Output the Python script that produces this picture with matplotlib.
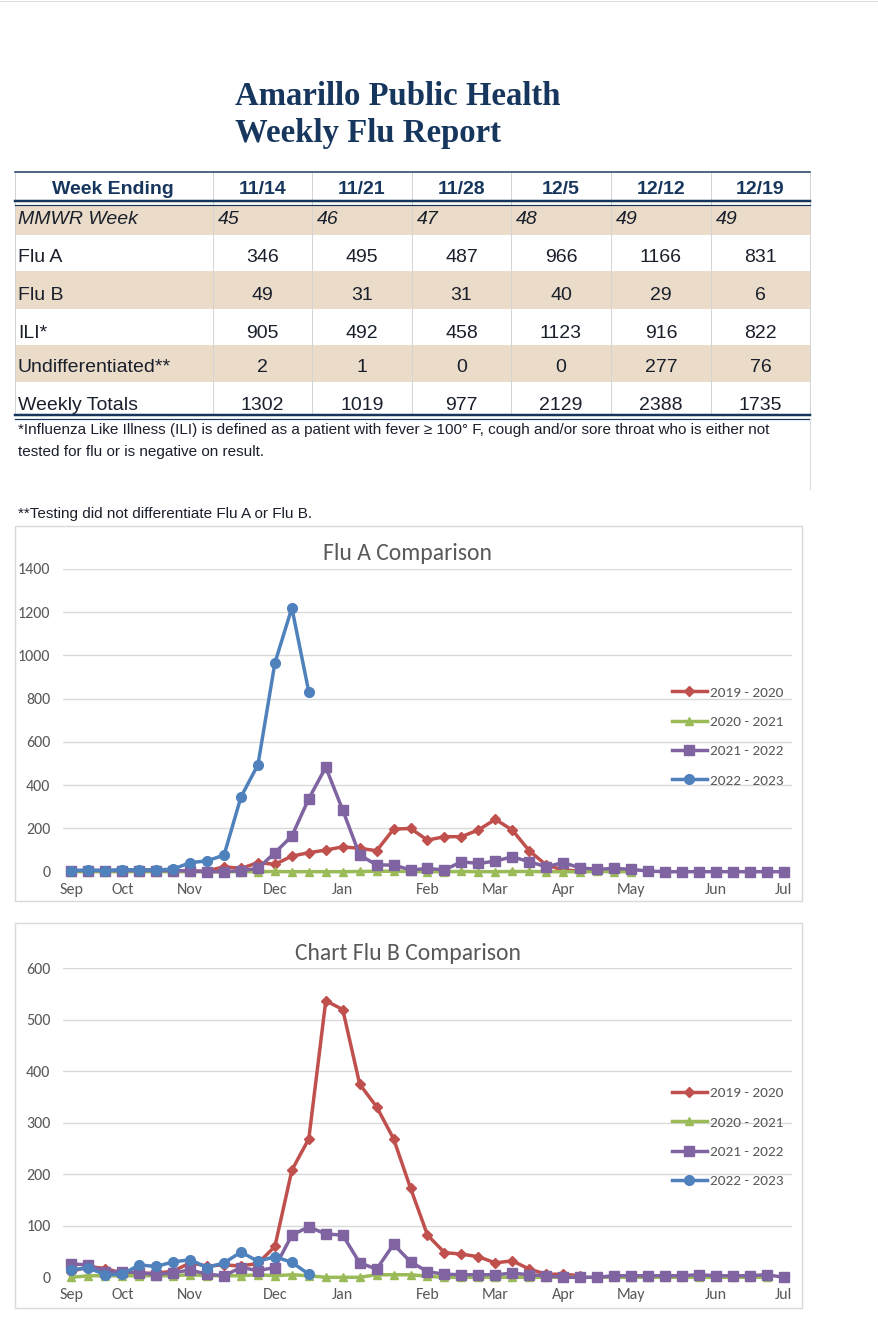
import numpy as np
import matplotlib
matplotlib.use("Agg")
import matplotlib.pyplot as plt
from matplotlib import font_manager
from matplotlib.patches import Rectangle
from matplotlib.lines import Line2D

W, H = 879, 1335

# ---- weekly report table ----
week_ending = ["11/14", "11/21", "11/28", "12/5", "12/12", "12/19"]
mmwr_week = ["45", "46", "47", "48", "49", "49"]
flu_a = [346, 495, 487, 966, 1166, 831]
flu_b = [49, 31, 31, 40, 29, 6]
ili = [905, 492, 458, 1123, 916, 822]
undiff = [2, 1, 0, 0, 277, 76]
weekly_totals = [1302, 1019, 977, 2129, 2388, 1735]

note_ili = ("*Influenza Like Illness (ILI) is defined as a patient with fever \u2265 100\u00b0 F, "
            "cough and/or sore throat who is either not\ntested for flu or is negative on result.")
note_undiff = "**Testing did not differentiate Flu A or Flu B."

# ---- season comparison charts (one value per week, first week of Sep = 0) ----
seasons = ["2019 - 2020", "2020 - 2021", "2021 - 2022", "2022 - 2023"]
month_labels = ["Sep", "Oct", "Nov", "Dec", "Jan", "Feb", "Mar", "Apr", "May", "Jun", "Jul"]
month_weeks = [0, 3, 7, 12, 16, 21, 25, 29, 33, 38, 42]

fluA_2019 = [3, 5, 5, 5, 8, 8, 5, 3, 3, 23, 15, 42, 34, 72, 88, 100, 115, 108, 97, 197,
             200, 146, 162, 162, 193, 242, 193, 97, 31, 8, 3]
fluA_2020 = [0, 0, 0, 0, 0, 0, 0, 0, 0, 0, 0, 0, 1, 0, 0, 0, 0, 1, 2, 2, 1, 0, 0, 1, 0,
             0, 1, 1, 0, 0, 0, 1, 0, 0]
fluA_2021 = [5, 5, 5, 5, 5, 5, 5, 3, 0, 0, 5, 15, 88, 165, 338, 483, 285, 77, 31, 31, 8,
             15, 8, 46, 38, 49, 69, 46, 23, 42, 18, 11, 15, 11, 3, 0, 0, 0, 0, 0, 0, 0, 0]
fluA_2022 = [5, 8, 5, 10, 8, 8, 12, 42, 50, 77, 346, 495, 966, 1220, 831]

fluB_2019 = [11, 21, 17, 8, 8, 8, 12, 28, 22, 24, 22, 27, 60, 208, 269, 537, 520, 375, 331,
             269, 173, 82, 48, 45, 40, 28, 32, 16, 6, 6, 3]
fluB_2020 = [0, 3, 3, 3, 3, 3, 3, 5, 3, 3, 3, 5, 3, 5, 3, 0, 0, 0, 5, 5, 5, 2, 0, 0, 0, 0,
             0, 0, 0, 0, 0, 0, 0, 0, 0, 0, 0, 0, 0, 0, 0, 0]
fluB_2021 = [26, 24, 11, 11, 9, 5, 9, 14, 6, 3, 19, 13, 19, 82, 98, 84, 82, 28, 16, 64, 30,
             11, 6, 5, 5, 5, 8, 5, 3, 0, 0, 0, 3, 3, 3, 3, 3, 5, 3, 3, 3, 5, 0]
fluB_2022 = [15, 18, 5, 6, 24, 21, 30, 34, 19, 28, 49, 31, 40, 29, 6]

colors = ["#C0504D", "#9BBB59", "#8064A2", "#4F81BD"]
markers = [("D", 5.5), ("^", 6), ("s", 7), ("o", 7)]


def pick(fams):
    for f in fams:
        try:
            font_manager.findfont(font_manager.FontProperties(family=f),
                                  fallback_to_default=False)
            return f
        except ValueError:
            pass
    return "DejaVu Sans"


narrow = pick(["Liberation Sans Narrow", "Arial Narrow", "Liberation Sans"])
chartf = pick(["Carlito", "Lato", "Open Sans"])
serif = pick(["Liberation Serif", "DejaVu Serif"])

NAVY = "#17365D"
BODY = "#1a1f2c"
BEIGE = "#EADCC9"
GRAY = "#595959"
LIGHT = "#D9D9D9"

fig = plt.figure(figsize=(W / 100, H / 100), dpi=100)


def fx(x):
    return x / W


def fy(y):
    return 1 - y / H


def hline(y, x0, x1, color, lw):
    fig.add_artist(Line2D([fx(x0), fx(x1)], [fy(y), fy(y)], color=color,
                          lw=lw * 0.72, transform=fig.transFigure))


def vline(x, y0, y1, color, lw):
    fig.add_artist(Line2D([fx(x), fx(x)], [fy(y0), fy(y1)], color=color,
                          lw=lw * 0.72, transform=fig.transFigure))


# page top rule
hline(1, 0, W, "#E0E0E0", 1)

# title
fig.text(fx(235), fy(105), "Amarillo Public Health", family=serif, weight="bold",
         size=23.6, color=NAVY, va="baseline")
fig.text(fx(235), fy(142), "Weekly Flu Report", family=serif, weight="bold",
         size=23.6, color=NAVY, va="baseline")

# table
col_edges = [15, 213, 312, 412, 511, 611, 711, 810]
for (y0, y1) in [(205, 235), (271, 309), (345, 382)]:
    fig.add_artist(Rectangle((fx(15), fy(y1)), fx(810) - fx(15), (y1 - y0) / H,
                             transform=fig.transFigure, fc=BEIGE, ec="none"))
for x in col_edges:
    vline(x, 172, 415, "#D4D4D4", 1)
hline(171.5, 15, 810, NAVY, 1.5)
hline(201, 15, 810, NAVY, 2.5)
hline(204.5, 15, 810, NAVY, 1.2)
hline(415, 15, 810, NAVY, 2.5)
hline(419, 15, 810, NAVY, 1.2)

centers = [(col_edges[i] + col_edges[i + 1]) / 2 for i in range(1, 7)]
fs = 14
fig.text(fx(113), fy(189), "Week Ending", family=narrow, weight="bold", size=fs,
         color=NAVY, ha="center", va="center")
for c, lab in zip(centers, week_ending):
    fig.text(fx(c), fy(189), lab, family=narrow, weight="bold", size=fs,
             color=NAVY, ha="center", va="center")
fig.text(fx(18), fy(220), "MMWR Week", family=narrow, style="italic", size=fs,
         color=BODY, va="center")
for i, lab in enumerate(mmwr_week):
    fig.text(fx(col_edges[i + 1] + 5), fy(220), lab, family=narrow, style="italic",
             size=fs, color=BODY, va="center")
rows = [("Flu A", flu_a, 258), ("Flu B", flu_b, 295), ("ILI*", ili, 333),
        ("Undifferentiated**", undiff, 368), ("Weekly Totals", weekly_totals, 405)]
for name, vals, y in rows:
    fig.text(fx(18), fy(y), name, family=narrow, size=fs, color=BODY, va="center")
    for c, v in zip(centers, vals):
        fig.text(fx(c), fy(y), str(v), family=narrow, size=fs, color=BODY,
                 ha="center", va="center")

# footnotes
fig.text(fx(18), fy(441), note_ili, family=[narrow, "DejaVu Sans"], size=11,
         color=BODY, va="center", linespacing=1.75)
fig.text(fx(18), fy(514), note_undiff, family=narrow, size=11, color=BODY, va="center")
vline(810, 419, 489, LIGHT, 1)


def chart(top, bottom, frame, title, title_y, series, ymax, ystep, leg_y):
    fig.add_artist(Rectangle((fx(frame[0]), fy(frame[3])), fx(frame[2]) - fx(frame[0]),
                             (frame[3] - frame[1]) / H, transform=fig.transFigure,
                             fill=False, ec=LIGHT, lw=1))
    ax = fig.add_axes([fx(63), fy(bottom), fx(792) - fx(63), (bottom - top) / H])
    for vals, lab, col, (m, ms) in zip(series, seasons, colors, markers):
        ax.plot(np.arange(len(vals)), vals, color=col, lw=2.5, marker=m, ms=ms,
                label=lab, clip_on=False, solid_joinstyle="round")
    ax.set_xlim(-0.5, 42.5)
    ax.set_ylim(0, ymax)
    ax.set_yticks(np.arange(0, ymax + 1, ystep))
    ax.set_xticks(month_weeks)
    ax.set_xticklabels(month_labels)
    ax.grid(axis="y", color=LIGHT, lw=1)
    ax.set_axisbelow(True)
    for s in ax.spines.values():
        s.set_visible(False)
    ax.tick_params(length=0, labelsize=11.5, labelcolor=GRAY)
    ax.tick_params(axis="y", pad=9)
    ax.tick_params(axis="x", pad=8)
    for t in ax.get_xticklabels() + ax.get_yticklabels():
        t.set_family(chartf)
    fig.text(fx(408), fy(title_y), title, family=chartf, size=17, color=GRAY,
             ha="center", va="center")
    leg = ax.legend(loc="upper left", bbox_to_anchor=(0.835, leg_y), frameon=False,
                    prop={"family": chartf, "size": 11}, handlelength=2.3,
                    handletextpad=0.2, labelspacing=1.09, borderpad=0, borderaxespad=0)
    for t in leg.get_texts():
        t.set_color(GRAY)
    return ax


chart(569, 871.7, (15, 526, 802, 901), "Flu A Comparison", 554,
      [fluA_2019, fluA_2020, fluA_2021, fluA_2022], 1400, 200, 0.614)
chart(968.3, 1277.3, (15, 923, 802, 1308), "Chart Flu B Comparison", 953,
      [fluB_2019, fluB_2020, fluB_2021, fluB_2022], 600, 100, 0.617)

fig.savefig("out.png", dpi=100)
